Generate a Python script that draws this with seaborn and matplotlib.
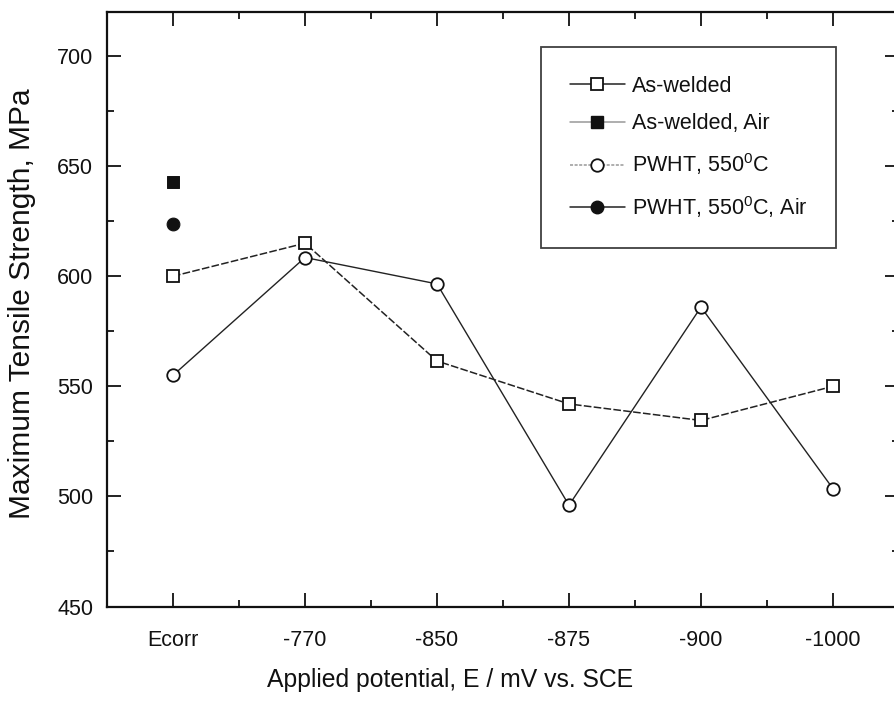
import matplotlib
matplotlib.use("Agg")
import matplotlib.pyplot as plt
import seaborn as sns
import pandas as pd
import numpy as np
from matplotlib.ticker import MultipleLocator, FixedLocator
from matplotlib.lines import Line2D

categories = ["Ecorr", "-770", "-850", "-875", "-900", "-1000"]
as_welded = [600, 615, 561.5, 542, 534.5, 550]
pwht = [555, 608.5, 596.5, 496, 586, 503.5]
as_welded_air = [643]
pwht_air = [623.5]
air_categories = ["Ecorr"]

sns.set_style("ticks")
plt.rcParams['font.family'] = ['Liberation Sans', 'DejaVu Sans']
plt.rcParams['mathtext.fontset'] = 'custom'
plt.rcParams['mathtext.rm'] = 'Liberation Sans'

fig = plt.figure(figsize=(8.94, 7.03), dpi=100)
ax = fig.add_axes([107/894, 96.5/703, 792/894, 594.5/703])

pos = {c: i for i, c in enumerate(categories)}
df_aw = pd.DataFrame({"x": [pos[c] for c in categories], "y": as_welded})
df_pw = pd.DataFrame({"x": [pos[c] for c in categories], "y": pwht})
df_aw_air = pd.DataFrame({"x": [pos[c] for c in air_categories], "y": as_welded_air})
df_pw_air = pd.DataFrame({"x": [pos[c] for c in air_categories], "y": pwht_air})

sns.lineplot(data=df_aw, x="x", y="y", ax=ax, color="#222222", lw=1.1,
             marker="s", markersize=8.5, markerfacecolor="white",
             markeredgecolor="#111111", markeredgewidth=1.3,
             linestyle="--", legend=False)
ax.lines[-1].set_dashes((5, 1.5))
sns.lineplot(data=df_pw, x="x", y="y", ax=ax, color="#222222", lw=1.0,
             marker="o", markersize=9, markerfacecolor="white",
             markeredgecolor="#111111", markeredgewidth=1.3, legend=False)
sns.scatterplot(data=df_aw_air, x="x", y="y", ax=ax, marker="s", s=75,
                color="#111111", edgecolor="#111111", legend=False)
sns.scatterplot(data=df_pw_air, x="x", y="y", ax=ax, marker="o", s=85,
                color="#111111", edgecolor="#111111", legend=False)

ax.set_xlim(-0.5, 5.5)
ax.set_ylim(450, 720)
ax.xaxis.set_major_locator(FixedLocator(range(len(categories))))
ax.set_xticklabels(categories)
ax.xaxis.set_minor_locator(FixedLocator(np.arange(0.5, len(categories) - 0.5, 1.0)))
ax.yaxis.set_major_locator(MultipleLocator(50))
ax.yaxis.set_minor_locator(MultipleLocator(25))

for s in ax.spines.values():
    s.set_linewidth(1.6)
    s.set_color("#111111")
ax.tick_params(which="both", direction="in", top=True, right=True,
               color="#111111", width=1.3, labelsize=15.5, labelcolor="#111111")
ax.tick_params(which="major", length=10)
ax.tick_params(which="minor", length=5)
ax.tick_params(axis="x", which="major", pad=17)
ax.tick_params(axis="y", which="major", pad=10)

ax.set_xlabel("Applied potential, E / mV vs. SCE", fontsize=17.8, color="#111111")
ax.set_ylabel("Maximum Tensile Strength, MPa", fontsize=21.5, color="#111111")
ax.xaxis.set_label_coords((450 - 107) / 792, -(668 - 606.5) / 594.5)
ax.yaxis.set_label_coords(-(107 - 36) / 792, (606.5 - 304) / 594.5)

handles = [
    Line2D([], [], color="#222222", lw=1.1, marker="s", markersize=8.5,
           markerfacecolor="white", markeredgecolor="#111111", markeredgewidth=1.3),
    Line2D([], [], color="#999999", lw=1.1, marker="s", markersize=8.5,
           markerfacecolor="#111111", markeredgecolor="#111111"),
    Line2D([], [], color="#999999", lw=1.1, ls=(0, (2, 1)), marker="o", markersize=9,
           markerfacecolor="white", markeredgecolor="#111111", markeredgewidth=1.3),
    Line2D([], [], color="#222222", lw=1.1, marker="o", markersize=9,
           markerfacecolor="#111111", markeredgecolor="#111111"),
]
labels = ["As-welded", "As-welded, Air", r"PWHT, 550$^{\mathregular{0}}$C",
          r"PWHT, 550$^{\mathregular{0}}$C, Air"]
leg = fig.legend(handles, labels, loc="upper left",
                 bbox_to_anchor=(541/894, 1 - 47/703), bbox_transform=fig.transFigure,
                 frameon=True, fancybox=False, edgecolor="#111111", fontsize=15.5,
                 handlelength=2.55, handletextpad=0.33, labelspacing=0.78,
                 borderpad=1.33, borderaxespad=0.0)
leg.get_frame().set_linewidth(1.3)
for t in leg.get_texts():
    t.set_color("#111111")

fig.savefig("out.png", dpi=100)
